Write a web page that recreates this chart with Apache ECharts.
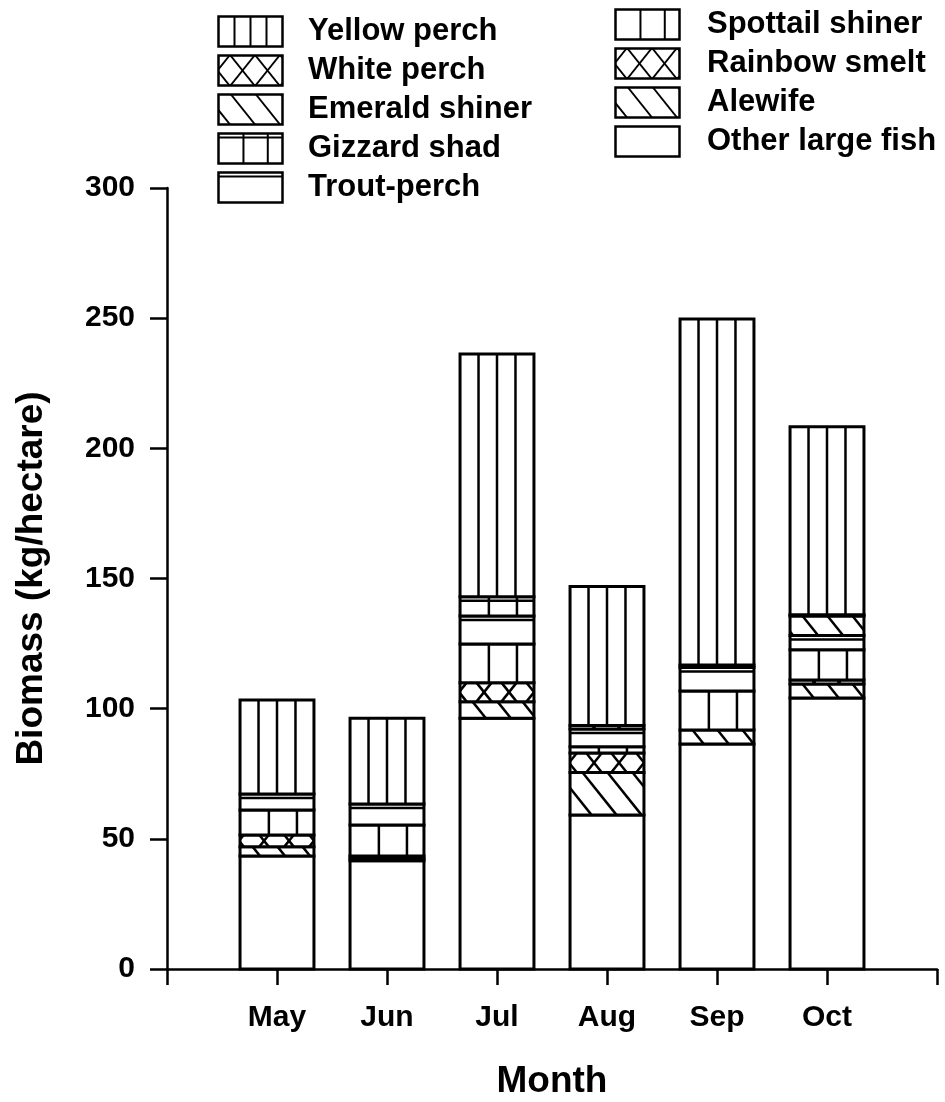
<!DOCTYPE html>
<html>
<head>
<meta charset="utf-8">
<title>Biomass by month</title>
<script src="https://cdn.jsdelivr.net/npm/echarts@6/dist/echarts.min.js"></script>
<style>
  html, body { margin: 0; padding: 0; background: #fff; }
  #chart { width: 945px; height: 1102px; }
</style>
</head>
<body>
<div id="chart"></div>
<script>
// data (kg/hectare), May..Oct
const months = ['May', 'Jun', 'Jul', 'Aug', 'Sep', 'Oct'];
const otherLargeFish = [43.4, 41.6, 96.3, 59.2, 86.4, 104.1];
const alewife        = [3.6, 0.8, 6.4, 16.3, 5.4, 5.4];
const rainbowSmelt   = [4.5, 1.0, 7.3, 7.5, 0, 1.5];
const spottailShiner = [9.6, 11.9, 14.8, 2.4, 15.0, 11.6];
const troutPerch     = [6.1, 8.1, 10.8, 6.8, 9.0, 5.5];
const gizzardShad    = [0, 0, 7.4, 0, 0, 0];
const emeraldShiner  = [0, 0, 0, 0, 0, 7.5];
const whitePerch     = [0, 0, 0, 1.3, 1.0, 0.5];
const yellowPerch    = [36.1, 32.9, 93.2, 53.4, 132.9, 72.2];

const yTicks = [0, 50, 100, 150, 200, 250, 300];

// bottom -> top
const stack = [
  { name: 'Other large fish', values: otherLargeFish, kind: 'plain' },
  { name: 'Alewife', values: alewife, kind: 'diag' },
  { name: 'Rainbow smelt', values: rainbowSmelt, kind: 'cross' },
  { name: 'Spottail shiner', values: spottailShiner, kind: 'vert2' },
  { name: 'Trout-perch', values: troutPerch, kind: 'dbl' },
  { name: 'Gizzard shad', values: gizzardShad, kind: 'vert2dbl' },
  { name: 'Emerald shiner', values: emeraldShiner, kind: 'diag' },
  { name: 'White perch', values: whitePerch, kind: 'cross' },
  { name: 'Yellow perch', values: yellowPerch, kind: 'vert4' }
];
const leftLegend = ['Yellow perch', 'White perch', 'Emerald shiner', 'Gizzard shad', 'Trout-perch'];
const rightLegend = ['Spottail shiner', 'Rainbow smelt', 'Alewife', 'Other large fish'];

const FONT = '"Liberation Sans", Arial, Helvetica, sans-serif';
const barFrac = 0.672;

// hatch lines for a box, already clipped to it
function patternLines(kind, x, y, w, h) {
  const segs = [];
  if (h < 1) return segs;
  const P = 25, k = 1.25;
  const vert = fr => fr.forEach(f => segs.push([x + w * f, y, x + w * f, y + h]));
  const hatch = (dir, offset) => {
    const run = h / k;
    const nMin = Math.floor((-run - offset) / P) - 2;
    const nMax = Math.ceil((w + run) / P) + 2;
    for (let n = nMin; n <= nMax; n++) {
      const xt = x + offset + n * P;
      const xb = xt + dir * run;
      const t1 = (x - xt) / (xb - xt), t2 = (x + w - xt) / (xb - xt);
      const a = Math.max(0, Math.min(t1, t2)), b = Math.min(1, Math.max(t1, t2));
      if (b - a > 0.001) segs.push([xt + (xb - xt) * a, y + h * a, xt + (xb - xt) * b, y + h * b]);
    }
  };
  if (kind === 'vert4') vert([0.25, 0.5, 0.75]);
  if (kind === 'vert2' || kind === 'vert2dbl') vert([0.39, 0.77]);
  if ((kind === 'dbl' || kind === 'vert2dbl') && h > 6) segs.push([x, y + 4, x + w, y + 4]);
  if (kind === 'diag') hatch(1, P * 0.5);
  if (kind === 'cross') {
    const o = 24 - h / (2 * k);
    hatch(1, o);
    hatch(-1, o + h / k);
  }
  return segs;
}

function legendIcon(kind, width) {
  const c = document.createElement('canvas');
  c.width = width; c.height = 33;
  const ctx = c.getContext('2d');
  const bx = 1.5, by = 1.5, bw = 64, bh = 30;
  ctx.fillStyle = '#fff';
  ctx.fillRect(bx, by, bw, bh);
  ctx.strokeStyle = '#000';
  ctx.lineWidth = 2;
  patternLines(kind, bx, by, bw, bh).forEach(s => {
    ctx.beginPath(); ctx.moveTo(s[0], s[1]); ctx.lineTo(s[2], s[3]); ctx.stroke();
  });
  ctx.lineWidth = 2.5;
  ctx.strokeRect(bx, by, bw, bh);
  return 'image://' + c.toDataURL();
}

const kindOf = name => stack.find(s => s.name === name).kind;

const base = months.map(() => 0);
const series = stack.map(s => {
  const data = s.values.map((v, i) => {
    const item = [i + 1, base[i], base[i] + v];
    base[i] += v;
    return item;
  });
  return {
    name: s.name,
    type: 'custom',
    encode: { x: 0, y: [1, 2] },
    data: data,
    renderItem: function (params, api) {
      const lo = api.value(1), hi = api.value(2);
      if (!(hi > lo)) return null;
      const pTop = api.coord([api.value(0), hi]);
      const pBot = api.coord([api.value(0), lo]);
      const w = api.size([1, 0])[0] * barFrac;
      const x = pTop[0] - w / 2, y = pTop[1], h = pBot[1] - pTop[1];
      const children = [{ type: 'rect', shape: { x: x, y: y, width: w, height: h }, style: { fill: '#fff' } }];
      patternLines(s.kind, x, y, w, h).forEach(l => children.push({
        type: 'line',
        shape: { x1: l[0], y1: l[1], x2: l[2], y2: l[3] },
        style: { stroke: '#000', lineWidth: 2.5 }
      }));
      children.push({ type: 'rect', shape: { x: x, y: y, width: w, height: h }, style: { fill: 'none', stroke: '#000', lineWidth: 3 } });
      return { type: 'group', children: children };
    }
  };
});

const legendText = { fontSize: 31, fontWeight: 'bold', color: '#000', fontFamily: FONT, lineHeight: 33 };

const chart = echarts.init(document.getElementById('chart'));
chart.setOption({
  animation: false,
  backgroundColor: '#fff',
  grid: { left: 167, right: 8, top: 188, bottom: 133, outerBoundsMode: 'none' },
  legend: [
    {
      orient: 'vertical', left: 217, top: 15, padding: 0,
      itemWidth: 86, itemHeight: 33, itemGap: 6, selectedMode: false,
      textStyle: legendText,
      data: leftLegend.map(n => ({ name: n, icon: legendIcon(kindOf(n), 86) }))
    },
    {
      orient: 'vertical', left: 614, top: 8, padding: 0,
      itemWidth: 88, itemHeight: 33, itemGap: 6, selectedMode: false,
      textStyle: legendText,
      data: rightLegend.map(n => ({ name: n, icon: legendIcon(kindOf(n), 88) }))
    }
  ],
  xAxis: {
    type: 'value', min: 0, max: 7, interval: 1,
    splitLine: { show: false },
    axisLine: { show: true, onZero: false, lineStyle: { color: '#000', width: 2.5 } },
    axisTick: { show: true, inside: false, length: 16, lineStyle: { color: '#000', width: 2.5 } },
    axisLabel: {
      formatter: v => months[v - 1] || '',
      margin: 34, color: '#000', fontSize: 30, fontWeight: 'bold', fontFamily: FONT
    },
    name: 'Month', nameLocation: 'middle', nameGap: 94,
    nameTextStyle: { color: '#000', fontSize: 37, fontWeight: 'bold', fontFamily: FONT }
  },
  yAxis: {
    type: 'value', min: yTicks[0], max: yTicks[yTicks.length - 1], interval: 50,
    splitLine: { show: false },
    axisLine: { show: true, lineStyle: { color: '#000', width: 2.5 } },
    axisTick: { show: true, inside: false, length: 17, lineStyle: { color: '#000', width: 2.5 } },
    axisLabel: { margin: 32, color: '#000', fontSize: 30, fontWeight: 'bold', fontFamily: FONT },
    name: 'Biomass (kg/hectare)', nameLocation: 'middle', nameGap: 117,
    nameTextStyle: { color: '#000', fontSize: 37, fontWeight: 'bold', fontFamily: FONT }
  },
  series: series
});
window.addEventListener('resize', () => chart.resize());
</script>
</body>
</html>
